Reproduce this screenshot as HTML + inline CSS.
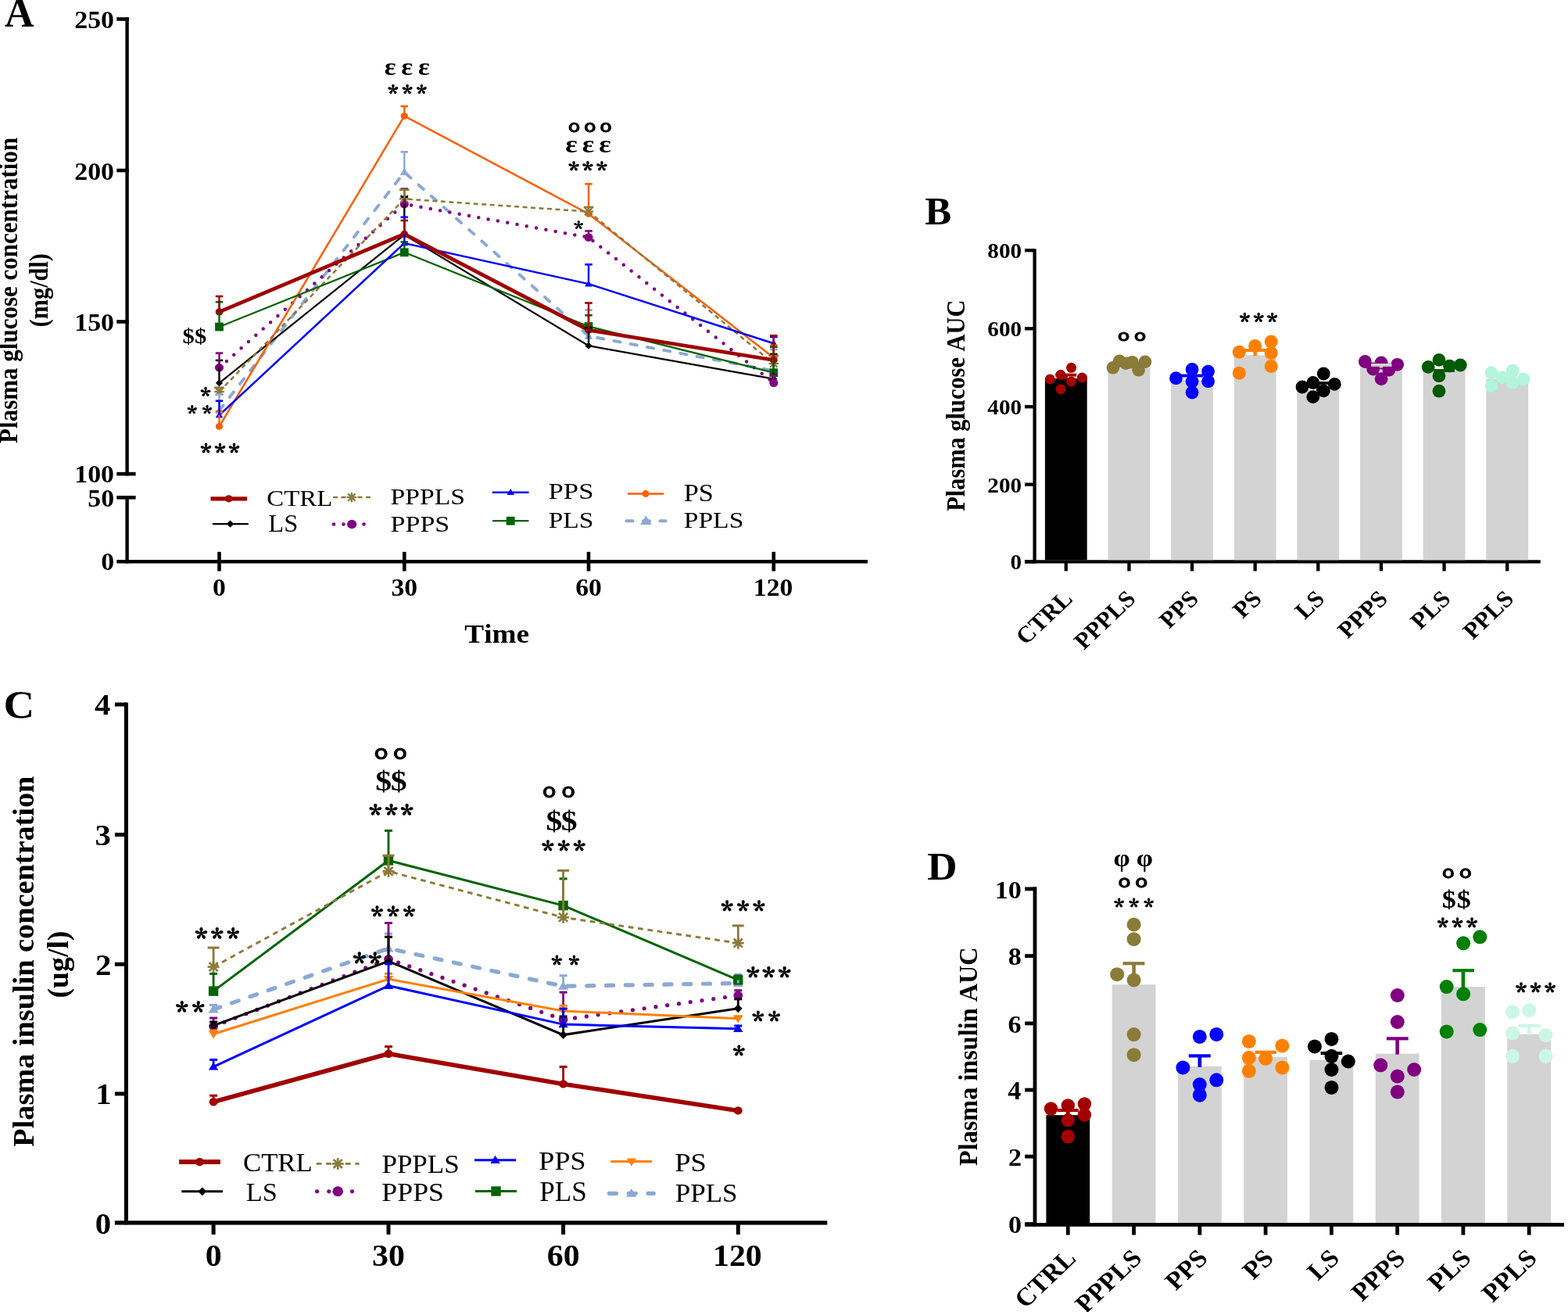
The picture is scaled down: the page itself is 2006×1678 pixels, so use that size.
<!DOCTYPE html>
<html><head><meta charset="utf-8"><title>Figure</title>
<style>html,body{margin:0;padding:0;background:#fff;}svg{display:block;}
text{font-kerning:none;font-variant-ligatures:none;}</style></head>
<body><svg width="2006" height="1678" viewBox="0 0 2006 1678">
<rect width="2006" height="1678" fill="#fff"/>
<line x1="162.6" y1="22.1" x2="162.6" y2="608.4" stroke="#000" stroke-width="4.4" stroke-linecap="butt"/>
<line x1="162.6" y1="634.1" x2="162.6" y2="720.5" stroke="#000" stroke-width="4.4" stroke-linecap="butt"/>
<line x1="149.3" y1="24.4" x2="164.8" y2="24.4" stroke="#000" stroke-width="4.6" stroke-linecap="butt"/>
<line x1="149.3" y1="218" x2="164.8" y2="218" stroke="#000" stroke-width="4.6" stroke-linecap="butt"/>
<line x1="149.3" y1="411.5" x2="164.8" y2="411.5" stroke="#000" stroke-width="4.6" stroke-linecap="butt"/>
<line x1="149.3" y1="606.1" x2="173.6" y2="606.1" stroke="#000" stroke-width="4.6" stroke-linecap="butt"/>
<line x1="149.3" y1="636.3" x2="173.6" y2="636.3" stroke="#000" stroke-width="4.6" stroke-linecap="butt"/>
<line x1="149.3" y1="718.3" x2="1110" y2="718.3" stroke="#000" stroke-width="4.6" stroke-linecap="butt"/>
<line x1="280.5" y1="705.8" x2="280.5" y2="730.5" stroke="#000" stroke-width="4.6" stroke-linecap="butt"/>
<line x1="517.3" y1="705.8" x2="517.3" y2="730.5" stroke="#000" stroke-width="4.6" stroke-linecap="butt"/>
<line x1="753" y1="705.8" x2="753" y2="730.5" stroke="#000" stroke-width="4.6" stroke-linecap="butt"/>
<line x1="989.8" y1="705.8" x2="989.8" y2="730.5" stroke="#000" stroke-width="4.6" stroke-linecap="butt"/>
<text transform="translate(95.21 36.11) scale(1.0597 1)" style="font-family:'Liberation Serif', 'Times New Roman', serif;font-weight:bold;font-size:32.01px;fill:#000">250</text>
<text transform="translate(95.21 229.61) scale(1.0597 1)" style="font-family:'Liberation Serif', 'Times New Roman', serif;font-weight:bold;font-size:32.01px;fill:#000">200</text>
<text transform="translate(95.21 423.11) scale(1.0597 1)" style="font-family:'Liberation Serif', 'Times New Roman', serif;font-weight:bold;font-size:32.01px;fill:#000">150</text>
<text transform="translate(95.21 617.01) scale(1.0597 1)" style="font-family:'Liberation Serif', 'Times New Roman', serif;font-weight:bold;font-size:32.01px;fill:#000">100</text>
<text transform="translate(112.17 648.01) scale(1.0597 1)" style="font-family:'Liberation Serif', 'Times New Roman', serif;font-weight:bold;font-size:32.01px;fill:#000">50</text>
<text transform="translate(129.13 729.11) scale(1.0597 1)" style="font-family:'Liberation Serif', 'Times New Roman', serif;font-weight:bold;font-size:32.01px;fill:#000">0</text>
<text transform="translate(272.07 762.3) scale(1.0831 1)" style="font-family:'Liberation Serif', 'Times New Roman', serif;font-weight:bold;font-size:31.12px;fill:#000">0</text>
<text transform="translate(500.46 762.3) scale(1.0831 1)" style="font-family:'Liberation Serif', 'Times New Roman', serif;font-weight:bold;font-size:31.12px;fill:#000">30</text>
<text transform="translate(736.21 762.3) scale(1.0831 1)" style="font-family:'Liberation Serif', 'Times New Roman', serif;font-weight:bold;font-size:31.12px;fill:#000">60</text>
<text transform="translate(963.81 762.3) scale(1.0831 1)" style="font-family:'Liberation Serif', 'Times New Roman', serif;font-weight:bold;font-size:31.12px;fill:#000">120</text>
<text transform="translate(594.32 821.59) scale(1.1144 1)" style="font-family:'Liberation Serif', 'Times New Roman', serif;font-weight:bold;font-size:33.42px;fill:#000">Time</text>
<text transform="translate(22.3 566.93) rotate(-90) scale(0.9127 1)" style="font-family:'Liberation Serif', 'Times New Roman', serif;font-weight:bold;font-size:34px;fill:#000">Plasma glucose concentration</text>
<text transform="translate(61.1 418.23) rotate(-90) scale(0.8902 1)" style="font-family:'Liberation Serif', 'Times New Roman', serif;font-weight:bold;font-size:34px;fill:#000">(mg/dl)</text>
<text transform="translate(6.09 34.1) scale(0.9958 1)" style="font-family:'Liberation Serif', 'Times New Roman', serif;font-weight:bold;font-size:51.99px;fill:#000">A</text>
<polyline points="280.5,525 517.3,220.2 753,429.9 989.8,474.2" fill="none" stroke="#8aa9d4" stroke-width="3.9" stroke-linecap="round" stroke-linejoin="miter" stroke-dasharray="8.3 13.3"/>
<polyline points="280.5,489.8 517.3,300.3 753,442.2 989.8,484.7" fill="none" stroke="#000" stroke-width="2.2" stroke-linecap="butt" stroke-linejoin="miter"/>
<polyline points="280.5,470.2 517.3,261 753,303.6 989.8,489.7" fill="none" stroke="#800080" stroke-width="4.5" stroke-linecap="round" stroke-linejoin="miter" stroke-dasharray="0 12.5"/>
<polyline points="280.5,545.3 517.3,148.4 753,273.5 989.8,457.6" fill="none" stroke="#ff5e00" stroke-width="2.5" stroke-linecap="butt" stroke-linejoin="miter"/>
<polyline points="280.5,501 517.3,254.4 753,270.6 989.8,465.1" fill="none" stroke="#8b7b3a" stroke-width="2.5" stroke-linecap="butt" stroke-linejoin="miter" stroke-dasharray="6 4.5"/>
<polyline points="280.5,418 517.3,322.8 753,417.5 989.8,476.7" fill="none" stroke="#006400" stroke-width="2.3" stroke-linecap="butt" stroke-linejoin="miter"/>
<polyline points="280.5,531 517.3,311 753,363.1 989.8,439.2" fill="none" stroke="#0000ff" stroke-width="2.5" stroke-linecap="butt" stroke-linejoin="miter"/>
<polyline points="280.5,398.9 517.3,299.4 753,422.2 989.8,460.5" fill="none" stroke="#a00000" stroke-width="4.8" stroke-linecap="butt" stroke-linejoin="miter"/>
<polygon points="280.5,519.75 286,528.75 275,528.75" fill="#8aa9d4"/>
<polygon points="517.3,214.95 522.8,223.95 511.8,223.95" fill="#8aa9d4"/>
<polygon points="753,424.65 758.5,433.65 747.5,433.65" fill="#8aa9d4"/>
<polygon points="989.8,468.95 995.3,477.95 984.3,477.95" fill="#8aa9d4"/>
<polygon points="280.5,485.2 285.1,489.8 280.5,494.4 275.9,489.8" fill="#000"/>
<polygon points="517.3,295.7 521.9,300.3 517.3,304.9 512.7,300.3" fill="#000"/>
<polygon points="753,437.6 757.6,442.2 753,446.8 748.4,442.2" fill="#000"/>
<polygon points="989.8,480.1 994.4,484.7 989.8,489.3 985.2,484.7" fill="#000"/>
<ellipse cx="280.5" cy="470.2" rx="5.57" ry="5.3" fill="#800080"/>
<ellipse cx="517.3" cy="261" rx="5.57" ry="5.3" fill="#800080"/>
<ellipse cx="753" cy="303.6" rx="5.57" ry="5.3" fill="#800080"/>
<ellipse cx="989.8" cy="489.7" rx="5.57" ry="5.3" fill="#800080"/>
<ellipse cx="280.5" cy="545.3" rx="4.62" ry="4.4" fill="#ff5e00"/>
<ellipse cx="517.3" cy="148.4" rx="4.62" ry="4.4" fill="#ff5e00"/>
<ellipse cx="753" cy="273.5" rx="4.62" ry="4.4" fill="#ff5e00"/>
<ellipse cx="989.8" cy="457.6" rx="4.62" ry="4.4" fill="#ff5e00"/>
<line x1="280.5" y1="494.7" x2="280.5" y2="507.3" stroke="#8b7b3a" stroke-width="2.27" stroke-linecap="butt"/>
<line x1="274.2" y1="501" x2="286.8" y2="501" stroke="#8b7b3a" stroke-width="2.27" stroke-linecap="butt"/>
<line x1="275.84" y1="496.34" x2="285.16" y2="505.66" stroke="#8b7b3a" stroke-width="2.27" stroke-linecap="butt"/>
<line x1="275.84" y1="505.66" x2="285.16" y2="496.34" stroke="#8b7b3a" stroke-width="2.27" stroke-linecap="butt"/>
<line x1="517.3" y1="248.1" x2="517.3" y2="260.7" stroke="#8b7b3a" stroke-width="2.27" stroke-linecap="butt"/>
<line x1="511" y1="254.4" x2="523.6" y2="254.4" stroke="#8b7b3a" stroke-width="2.27" stroke-linecap="butt"/>
<line x1="512.64" y1="249.74" x2="521.96" y2="259.06" stroke="#8b7b3a" stroke-width="2.27" stroke-linecap="butt"/>
<line x1="512.64" y1="259.06" x2="521.96" y2="249.74" stroke="#8b7b3a" stroke-width="2.27" stroke-linecap="butt"/>
<line x1="753" y1="264.3" x2="753" y2="276.9" stroke="#8b7b3a" stroke-width="2.27" stroke-linecap="butt"/>
<line x1="746.7" y1="270.6" x2="759.3" y2="270.6" stroke="#8b7b3a" stroke-width="2.27" stroke-linecap="butt"/>
<line x1="748.34" y1="265.94" x2="757.66" y2="275.26" stroke="#8b7b3a" stroke-width="2.27" stroke-linecap="butt"/>
<line x1="748.34" y1="275.26" x2="757.66" y2="265.94" stroke="#8b7b3a" stroke-width="2.27" stroke-linecap="butt"/>
<line x1="989.8" y1="458.8" x2="989.8" y2="471.4" stroke="#8b7b3a" stroke-width="2.27" stroke-linecap="butt"/>
<line x1="983.5" y1="465.1" x2="996.1" y2="465.1" stroke="#8b7b3a" stroke-width="2.27" stroke-linecap="butt"/>
<line x1="985.14" y1="460.44" x2="994.46" y2="469.76" stroke="#8b7b3a" stroke-width="2.27" stroke-linecap="butt"/>
<line x1="985.14" y1="469.76" x2="994.46" y2="460.44" stroke="#8b7b3a" stroke-width="2.27" stroke-linecap="butt"/>
<rect x="275.1" y="412.6" width="10.8" height="10.8" fill="#006400"/>
<rect x="511.9" y="317.4" width="10.8" height="10.8" fill="#006400"/>
<rect x="747.6" y="412.1" width="10.8" height="10.8" fill="#006400"/>
<rect x="984.4" y="471.3" width="10.8" height="10.8" fill="#006400"/>
<polygon points="280.5,526.38 285.34,534.3 275.66,534.3" fill="#0000ff"/>
<polygon points="517.3,306.38 522.14,314.3 512.46,314.3" fill="#0000ff"/>
<polygon points="753,358.48 757.84,366.4 748.16,366.4" fill="#0000ff"/>
<polygon points="989.8,434.58 994.64,442.5 984.96,442.5" fill="#0000ff"/>
<ellipse cx="280.5" cy="398.9" rx="4.83" ry="4.6" fill="#a00000"/>
<ellipse cx="517.3" cy="299.4" rx="4.83" ry="4.6" fill="#a00000"/>
<ellipse cx="753" cy="422.2" rx="4.83" ry="4.6" fill="#a00000"/>
<ellipse cx="989.8" cy="460.5" rx="4.83" ry="4.6" fill="#a00000"/>
<line x1="280.5" y1="525" x2="280.5" y2="504.3" stroke="#8aa9d4" stroke-width="2.4" stroke-linecap="butt"/>
<line x1="275.75" y1="504.3" x2="285.25" y2="504.3" stroke="#8aa9d4" stroke-width="2.6" stroke-linecap="butt"/>
<line x1="517.3" y1="220.2" x2="517.3" y2="194.3" stroke="#8aa9d4" stroke-width="2.4" stroke-linecap="butt"/>
<line x1="512.55" y1="194.3" x2="522.05" y2="194.3" stroke="#8aa9d4" stroke-width="2.6" stroke-linecap="butt"/>
<line x1="753" y1="429.9" x2="753" y2="396.5" stroke="#8aa9d4" stroke-width="2.4" stroke-linecap="butt"/>
<line x1="748.25" y1="396.5" x2="757.75" y2="396.5" stroke="#8aa9d4" stroke-width="2.6" stroke-linecap="butt"/>
<line x1="989.8" y1="474.2" x2="989.8" y2="447" stroke="#8aa9d4" stroke-width="2.4" stroke-linecap="butt"/>
<line x1="985.05" y1="447" x2="994.55" y2="447" stroke="#8aa9d4" stroke-width="2.6" stroke-linecap="butt"/>
<line x1="280.5" y1="489.8" x2="280.5" y2="460.9" stroke="#000" stroke-width="2.4" stroke-linecap="butt"/>
<line x1="275.75" y1="460.9" x2="285.25" y2="460.9" stroke="#000" stroke-width="2.6" stroke-linecap="butt"/>
<line x1="517.3" y1="300.3" x2="517.3" y2="251.8" stroke="#000" stroke-width="2.4" stroke-linecap="butt"/>
<line x1="512.55" y1="251.8" x2="522.05" y2="251.8" stroke="#000" stroke-width="2.6" stroke-linecap="butt"/>
<line x1="753" y1="442.2" x2="753" y2="419" stroke="#000" stroke-width="2.4" stroke-linecap="butt"/>
<line x1="748.25" y1="419" x2="757.75" y2="419" stroke="#000" stroke-width="2.6" stroke-linecap="butt"/>
<line x1="989.8" y1="484.7" x2="989.8" y2="453" stroke="#000" stroke-width="2.4" stroke-linecap="butt"/>
<line x1="985.05" y1="453" x2="994.55" y2="453" stroke="#000" stroke-width="2.6" stroke-linecap="butt"/>
<line x1="280.5" y1="470.2" x2="280.5" y2="451.6" stroke="#800080" stroke-width="2.4" stroke-linecap="butt"/>
<line x1="275.75" y1="451.6" x2="285.25" y2="451.6" stroke="#800080" stroke-width="2.6" stroke-linecap="butt"/>
<line x1="517.3" y1="261" x2="517.3" y2="241.5" stroke="#800080" stroke-width="2.4" stroke-linecap="butt"/>
<line x1="512.55" y1="241.5" x2="522.05" y2="241.5" stroke="#800080" stroke-width="2.6" stroke-linecap="butt"/>
<line x1="753" y1="303.6" x2="753" y2="295.4" stroke="#800080" stroke-width="2.4" stroke-linecap="butt"/>
<line x1="748.25" y1="295.4" x2="757.75" y2="295.4" stroke="#800080" stroke-width="2.6" stroke-linecap="butt"/>
<line x1="989.8" y1="489.7" x2="989.8" y2="480" stroke="#800080" stroke-width="2.4" stroke-linecap="butt"/>
<line x1="985.05" y1="480" x2="994.55" y2="480" stroke="#800080" stroke-width="2.6" stroke-linecap="butt"/>
<line x1="280.5" y1="545.3" x2="280.5" y2="526" stroke="#ff5e00" stroke-width="2.4" stroke-linecap="butt"/>
<line x1="275.75" y1="526" x2="285.25" y2="526" stroke="#ff5e00" stroke-width="2.6" stroke-linecap="butt"/>
<line x1="517.3" y1="148.4" x2="517.3" y2="135.9" stroke="#ff5e00" stroke-width="2.4" stroke-linecap="butt"/>
<line x1="512.55" y1="135.9" x2="522.05" y2="135.9" stroke="#ff5e00" stroke-width="2.6" stroke-linecap="butt"/>
<line x1="753" y1="273.5" x2="753" y2="235.3" stroke="#ff5e00" stroke-width="2.4" stroke-linecap="butt"/>
<line x1="748.25" y1="235.3" x2="757.75" y2="235.3" stroke="#ff5e00" stroke-width="2.6" stroke-linecap="butt"/>
<line x1="989.8" y1="457.6" x2="989.8" y2="441.7" stroke="#ff5e00" stroke-width="2.4" stroke-linecap="butt"/>
<line x1="985.05" y1="441.7" x2="994.55" y2="441.7" stroke="#ff5e00" stroke-width="2.6" stroke-linecap="butt"/>
<line x1="280.5" y1="501" x2="280.5" y2="495.7" stroke="#8b7b3a" stroke-width="2.4" stroke-linecap="butt"/>
<line x1="274.2" y1="495.7" x2="286.8" y2="495.7" stroke="#8b7b3a" stroke-width="2.6" stroke-linecap="butt"/>
<line x1="517.3" y1="254.4" x2="517.3" y2="242.7" stroke="#8b7b3a" stroke-width="2.4" stroke-linecap="butt"/>
<line x1="511" y1="242.7" x2="523.6" y2="242.7" stroke="#8b7b3a" stroke-width="2.6" stroke-linecap="butt"/>
<line x1="753" y1="270.6" x2="753" y2="264.9" stroke="#8b7b3a" stroke-width="2.4" stroke-linecap="butt"/>
<line x1="746.7" y1="264.9" x2="759.3" y2="264.9" stroke="#8b7b3a" stroke-width="2.6" stroke-linecap="butt"/>
<line x1="989.8" y1="465.1" x2="989.8" y2="455" stroke="#8b7b3a" stroke-width="2.4" stroke-linecap="butt"/>
<line x1="983.5" y1="455" x2="996.1" y2="455" stroke="#8b7b3a" stroke-width="2.6" stroke-linecap="butt"/>
<line x1="280.5" y1="418" x2="280.5" y2="386.2" stroke="#006400" stroke-width="2.4" stroke-linecap="butt"/>
<line x1="275.75" y1="386.2" x2="285.25" y2="386.2" stroke="#006400" stroke-width="2.6" stroke-linecap="butt"/>
<line x1="517.3" y1="322.8" x2="517.3" y2="309.5" stroke="#006400" stroke-width="2.4" stroke-linecap="butt"/>
<line x1="512.55" y1="309.5" x2="522.05" y2="309.5" stroke="#006400" stroke-width="2.6" stroke-linecap="butt"/>
<line x1="753" y1="417.5" x2="753" y2="403.2" stroke="#006400" stroke-width="2.4" stroke-linecap="butt"/>
<line x1="748.25" y1="403.2" x2="757.75" y2="403.2" stroke="#006400" stroke-width="2.6" stroke-linecap="butt"/>
<line x1="989.8" y1="476.7" x2="989.8" y2="443.8" stroke="#006400" stroke-width="2.4" stroke-linecap="butt"/>
<line x1="985.05" y1="443.8" x2="994.55" y2="443.8" stroke="#006400" stroke-width="2.6" stroke-linecap="butt"/>
<line x1="280.5" y1="531" x2="280.5" y2="512.7" stroke="#0000ff" stroke-width="2.4" stroke-linecap="butt"/>
<line x1="275.75" y1="512.7" x2="285.25" y2="512.7" stroke="#0000ff" stroke-width="2.6" stroke-linecap="butt"/>
<line x1="517.3" y1="311" x2="517.3" y2="277.8" stroke="#0000ff" stroke-width="2.4" stroke-linecap="butt"/>
<line x1="512.55" y1="277.8" x2="522.05" y2="277.8" stroke="#0000ff" stroke-width="2.6" stroke-linecap="butt"/>
<line x1="753" y1="363.1" x2="753" y2="338.3" stroke="#0000ff" stroke-width="2.4" stroke-linecap="butt"/>
<line x1="748.25" y1="338.3" x2="757.75" y2="338.3" stroke="#0000ff" stroke-width="2.6" stroke-linecap="butt"/>
<line x1="989.8" y1="439.2" x2="989.8" y2="430.9" stroke="#0000ff" stroke-width="2.4" stroke-linecap="butt"/>
<line x1="985.05" y1="430.9" x2="994.55" y2="430.9" stroke="#0000ff" stroke-width="2.6" stroke-linecap="butt"/>
<line x1="280.5" y1="398.9" x2="280.5" y2="379" stroke="#a00000" stroke-width="2.4" stroke-linecap="butt"/>
<line x1="275.75" y1="379" x2="285.25" y2="379" stroke="#a00000" stroke-width="2.6" stroke-linecap="butt"/>
<line x1="517.3" y1="299.4" x2="517.3" y2="282" stroke="#a00000" stroke-width="2.4" stroke-linecap="butt"/>
<line x1="512.55" y1="282" x2="522.05" y2="282" stroke="#a00000" stroke-width="2.6" stroke-linecap="butt"/>
<line x1="753" y1="422.2" x2="753" y2="387.5" stroke="#a00000" stroke-width="2.4" stroke-linecap="butt"/>
<line x1="748.25" y1="387.5" x2="757.75" y2="387.5" stroke="#a00000" stroke-width="2.6" stroke-linecap="butt"/>
<line x1="989.8" y1="460.5" x2="989.8" y2="429.2" stroke="#a00000" stroke-width="2.4" stroke-linecap="butt"/>
<line x1="985.05" y1="429.2" x2="994.55" y2="429.2" stroke="#a00000" stroke-width="2.6" stroke-linecap="butt"/>
<polyline points="269.5,637.8 316.1,637.8" fill="none" stroke="#a00000" stroke-width="5.2" stroke-linecap="butt" stroke-linejoin="miter"/>
<ellipse cx="292.7" cy="637.8" rx="4.83" ry="4.6" fill="#a00000"/>
<polyline points="271.9,670.1 317.9,670.1" fill="none" stroke="#000" stroke-width="2.2" stroke-linecap="butt" stroke-linejoin="miter"/>
<polygon points="294.5,665.5 299.1,670.1 294.5,674.7 289.9,670.1" fill="#000"/>
<polyline points="426,636 474.5,636" fill="none" stroke="#8b7b3a" stroke-width="2.5" stroke-linecap="butt" stroke-linejoin="miter" stroke-dasharray="6 4.5"/>
<line x1="449.9" y1="629.7" x2="449.9" y2="642.3" stroke="#8b7b3a" stroke-width="2.27" stroke-linecap="butt"/>
<line x1="443.6" y1="636" x2="456.2" y2="636" stroke="#8b7b3a" stroke-width="2.27" stroke-linecap="butt"/>
<line x1="445.24" y1="631.34" x2="454.56" y2="640.66" stroke="#8b7b3a" stroke-width="2.27" stroke-linecap="butt"/>
<line x1="445.24" y1="640.66" x2="454.56" y2="631.34" stroke="#8b7b3a" stroke-width="2.27" stroke-linecap="butt"/>
<ellipse cx="427" cy="670.5" rx="2.3" ry="2.3" fill="#800080"/>
<ellipse cx="439.5" cy="670.5" rx="2.3" ry="2.3" fill="#800080"/>
<ellipse cx="465.5" cy="670.5" rx="2.3" ry="2.3" fill="#800080"/>
<ellipse cx="450.2" cy="670.5" rx="6.12" ry="5.83" fill="#800080"/>
<polyline points="629.9,629.7 676.5,629.7" fill="none" stroke="#0000ff" stroke-width="2.5" stroke-linecap="butt" stroke-linejoin="miter"/>
<polygon points="653.2,625.08 658.04,633 648.36,633" fill="#0000ff"/>
<polyline points="630,666.2 676.5,666.2" fill="none" stroke="#006400" stroke-width="2.3" stroke-linecap="butt" stroke-linejoin="miter"/>
<rect x="647.8" y="660.8" width="10.8" height="10.8" fill="#006400"/>
<polyline points="803,631.5 849.4,631.5" fill="none" stroke="#ff5e00" stroke-width="2.5" stroke-linecap="butt" stroke-linejoin="miter"/>
<ellipse cx="826" cy="631.5" rx="4.62" ry="4.4" fill="#ff5e00"/>
<polyline points="801.3,666.2 851.5,666.2" fill="none" stroke="#8aa9d4" stroke-width="3.9" stroke-linecap="round" stroke-linejoin="miter" stroke-dasharray="8.3 13.3"/>
<polygon points="826.4,659.38 833.55,671.08 819.25,671.08" fill="#8aa9d4"/>
<text transform="translate(341.25 646.5) scale(1.0881 1)" style="font-family:'Liberation Serif', 'Times New Roman', serif;font-weight:normal;font-size:30.21px;fill:#000">CTRL</text>
<text transform="translate(343.36 679.7) scale(1.0607 1)" style="font-family:'Liberation Serif', 'Times New Roman', serif;font-weight:normal;font-size:30.66px;fill:#000">LS</text>
<text transform="translate(499.53 644.71) scale(1.1482 1)" style="font-family:'Liberation Serif', 'Times New Roman', serif;font-weight:normal;font-size:29.32px;fill:#000">PPPLS</text>
<text transform="translate(499.52 679.71) scale(1.1620 1)" style="font-family:'Liberation Serif', 'Times New Roman', serif;font-weight:normal;font-size:29.32px;fill:#000">PPPS</text>
<text transform="translate(701.6 638.41) scale(1.1825 1)" style="font-family:'Liberation Serif', 'Times New Roman', serif;font-weight:normal;font-size:29.32px;fill:#000">PPS</text>
<text transform="translate(701.63 675.21) scale(1.1429 1)" style="font-family:'Liberation Serif', 'Times New Roman', serif;font-weight:normal;font-size:29.32px;fill:#000">PLS</text>
<text transform="translate(874.71 641.1) scale(1.1175 1)" style="font-family:'Liberation Serif', 'Times New Roman', serif;font-weight:normal;font-size:30.66px;fill:#000">PS</text>
<text transform="translate(874.73 675.21) scale(1.1470 1)" style="font-family:'Liberation Serif', 'Times New Roman', serif;font-weight:normal;font-size:29.32px;fill:#000">PPLS</text>
<text transform="translate(491.64 95.6) scale(1.1200 1)" style="font-family:'Liberation Serif', 'Times New Roman', serif;font-weight:bold;font-size:31.19px;fill:#000;letter-spacing:6.07px">εεε</text>
<text transform="translate(496.29 129.55) scale(1.0300 1)" style="font-family:'Noto Serif CJK JP', serif;font-weight:900;font-size:26.22px;fill:#000;letter-spacing:4.85px;stroke:#000;stroke-width:0.58px;stroke-linejoin:round">***</text>
<text transform="translate(726.95 168.5) scale(1.2000 1)" style="font-family:'Noto Sans CJK JP', sans-serif;font-weight:400;font-size:20.79px;fill:#000;letter-spacing:4.27px;stroke:#000;stroke-width:1.25px;stroke-linejoin:round">ooo</text>
<text transform="translate(723.21 195.28) scale(1.1200 1)" style="font-family:'Liberation Serif', 'Times New Roman', serif;font-weight:bold;font-size:32.44px;fill:#000;letter-spacing:5.35px">εεε</text>
<text transform="translate(727.27 228.99) scale(1.0300 1)" style="font-family:'Noto Serif CJK JP', serif;font-weight:900;font-size:27.35px;fill:#000;letter-spacing:3.94px;stroke:#000;stroke-width:0.6px;stroke-linejoin:round">***</text>
<text transform="translate(734.33 301.87) scale(1.0300 1)" style="font-family:'Noto Serif CJK JP', serif;font-weight:900;font-size:23.73px;fill:#000;letter-spacing:-11.61px;stroke:#000;stroke-width:0.52px;stroke-linejoin:round">*</text>
<text transform="translate(233.51 439.19) scale(1.1600 1)" style="font-family:'Liberation Serif', 'Times New Roman', serif;font-weight:bold;font-size:26.37px;fill:#000;letter-spacing:0.23px">$$</text>
<text transform="translate(256.49 517.46) scale(1.0300 1)" style="font-family:'Noto Serif CJK JP', serif;font-weight:900;font-size:26px;fill:#000;letter-spacing:-12.71px;stroke:#000;stroke-width:0.57px;stroke-linejoin:round">*</text>
<text transform="translate(239.61 538.91) scale(1.0300 1)" style="font-family:'Noto Serif CJK JP', serif;font-weight:900;font-size:24.86px;fill:#000;letter-spacing:6.52px;stroke:#000;stroke-width:0.55px;stroke-linejoin:round">**</text>
<text transform="translate(256.56 589.97) scale(1.0300 1)" style="font-family:'Noto Serif CJK JP', serif;font-weight:900;font-size:27.8px;fill:#000;letter-spacing:3.81px;stroke:#000;stroke-width:0.61px;stroke-linejoin:round">***</text>
<line x1="1323.6" y1="318.2" x2="1323.6" y2="720.6" stroke="#000" stroke-width="4.3" stroke-linecap="butt"/>
<line x1="1311" y1="320.2" x2="1323.6" y2="320.2" stroke="#000" stroke-width="4.3" stroke-linecap="butt"/>
<line x1="1311" y1="420.3" x2="1323.6" y2="420.3" stroke="#000" stroke-width="4.3" stroke-linecap="butt"/>
<line x1="1311" y1="520.2" x2="1323.6" y2="520.2" stroke="#000" stroke-width="4.3" stroke-linecap="butt"/>
<line x1="1311" y1="619.6" x2="1323.6" y2="619.6" stroke="#000" stroke-width="4.3" stroke-linecap="butt"/>
<line x1="1311" y1="718.4" x2="1323.6" y2="718.4" stroke="#000" stroke-width="4.3" stroke-linecap="butt"/>
<line x1="1311" y1="718.4" x2="1970.8" y2="718.4" stroke="#000" stroke-width="4.3" stroke-linecap="butt"/>
<rect x="1336.9" y="484.1" width="53.8" height="232.15" fill="#000"/>
<line x1="1363.8" y1="718.4" x2="1363.8" y2="730.4" stroke="#000" stroke-width="4.3" stroke-linecap="butt"/>
<rect x="1417.53" y="470.5" width="53.8" height="245.75" fill="#d3d3d3"/>
<line x1="1444.43" y1="718.4" x2="1444.43" y2="730.4" stroke="#000" stroke-width="4.3" stroke-linecap="butt"/>
<rect x="1498.16" y="485.9" width="53.8" height="230.35" fill="#d3d3d3"/>
<line x1="1525.06" y1="718.4" x2="1525.06" y2="730.4" stroke="#000" stroke-width="4.3" stroke-linecap="butt"/>
<rect x="1578.79" y="454.3" width="53.8" height="261.95" fill="#d3d3d3"/>
<line x1="1605.69" y1="718.4" x2="1605.69" y2="730.4" stroke="#000" stroke-width="4.3" stroke-linecap="butt"/>
<rect x="1659.42" y="499" width="53.8" height="217.25" fill="#d3d3d3"/>
<line x1="1686.32" y1="718.4" x2="1686.32" y2="730.4" stroke="#000" stroke-width="4.3" stroke-linecap="butt"/>
<rect x="1740.05" y="469.4" width="53.8" height="246.85" fill="#d3d3d3"/>
<line x1="1766.95" y1="718.4" x2="1766.95" y2="730.4" stroke="#000" stroke-width="4.3" stroke-linecap="butt"/>
<rect x="1820.68" y="473.8" width="53.8" height="242.45" fill="#d3d3d3"/>
<line x1="1847.58" y1="718.4" x2="1847.58" y2="730.4" stroke="#000" stroke-width="4.3" stroke-linecap="butt"/>
<rect x="1901.31" y="484.6" width="53.8" height="231.65" fill="#d3d3d3"/>
<line x1="1928.21" y1="718.4" x2="1928.21" y2="730.4" stroke="#000" stroke-width="4.3" stroke-linecap="butt"/>
<line x1="1363.8" y1="485.1" x2="1363.8" y2="479.6" stroke="#a00000" stroke-width="4.4" stroke-linecap="butt"/>
<line x1="1350.3" y1="479.6" x2="1377.3" y2="479.6" stroke="#a00000" stroke-width="3.9" stroke-linecap="butt"/>
<line x1="1444.43" y1="471.5" x2="1444.43" y2="466" stroke="#8b7b3a" stroke-width="4.4" stroke-linecap="butt"/>
<line x1="1430.93" y1="466" x2="1457.93" y2="466" stroke="#8b7b3a" stroke-width="3.9" stroke-linecap="butt"/>
<line x1="1525.06" y1="486.9" x2="1525.06" y2="480.5" stroke="#0000ff" stroke-width="4.4" stroke-linecap="butt"/>
<line x1="1511.06" y1="480.5" x2="1539.06" y2="480.5" stroke="#0000ff" stroke-width="3.9" stroke-linecap="butt"/>
<line x1="1605.69" y1="455.3" x2="1605.69" y2="448" stroke="#ff8000" stroke-width="4.4" stroke-linecap="butt"/>
<line x1="1591.99" y1="448" x2="1619.39" y2="448" stroke="#ff8000" stroke-width="3.9" stroke-linecap="butt"/>
<line x1="1686.32" y1="500" x2="1686.32" y2="489.9" stroke="#000" stroke-width="4.4" stroke-linecap="butt"/>
<line x1="1672.82" y1="489.9" x2="1699.82" y2="489.9" stroke="#000" stroke-width="3.9" stroke-linecap="butt"/>
<line x1="1847.58" y1="474.8" x2="1847.58" y2="474" stroke="#005a00" stroke-width="4.4" stroke-linecap="butt"/>
<line x1="1834.28" y1="474" x2="1860.88" y2="474" stroke="#005a00" stroke-width="3.9" stroke-linecap="butt"/>
<line x1="1928.21" y1="485.6" x2="1928.21" y2="480" stroke="#b3f5dc" stroke-width="4.4" stroke-linecap="butt"/>
<line x1="1914.91" y1="480" x2="1941.51" y2="480" stroke="#b3f5dc" stroke-width="3.9" stroke-linecap="butt"/>
<ellipse cx="1343.3" cy="484.9" rx="6.5" ry="6.5" fill="#a30000"/>
<ellipse cx="1356.9" cy="479.3" rx="6.5" ry="6.5" fill="#a30000"/>
<ellipse cx="1370.6" cy="470.3" rx="6.5" ry="6.5" fill="#a30000"/>
<ellipse cx="1370.6" cy="487.9" rx="6.5" ry="6.5" fill="#a30000"/>
<ellipse cx="1384.4" cy="483" rx="6.5" ry="6.5" fill="#a30000"/>
<ellipse cx="1356.9" cy="497.7" rx="6.5" ry="6.5" fill="#a30000"/>
<ellipse cx="1423.9" cy="470.3" rx="8.3" ry="8.3" fill="#8b7b38"/>
<ellipse cx="1432.1" cy="461.7" rx="8.3" ry="8.3" fill="#8b7b38"/>
<ellipse cx="1440.3" cy="464.7" rx="8.3" ry="8.3" fill="#8b7b38"/>
<ellipse cx="1448.5" cy="463.2" rx="8.3" ry="8.3" fill="#8b7b38"/>
<ellipse cx="1456.6" cy="473.3" rx="8.3" ry="8.3" fill="#8b7b38"/>
<ellipse cx="1465" cy="462.8" rx="8.3" ry="8.3" fill="#8b7b38"/>
<ellipse cx="1504.5" cy="483.7" rx="8.4" ry="8.4" fill="#0000ff"/>
<ellipse cx="1525.1" cy="472.4" rx="8.4" ry="8.4" fill="#0000ff"/>
<ellipse cx="1525.1" cy="488" rx="8.4" ry="8.4" fill="#0000ff"/>
<ellipse cx="1525.1" cy="502" rx="8.4" ry="8.4" fill="#0000ff"/>
<ellipse cx="1545.6" cy="475.1" rx="8.4" ry="8.4" fill="#0000ff"/>
<ellipse cx="1545.6" cy="487.7" rx="8.4" ry="8.4" fill="#0000ff"/>
<ellipse cx="1585.3" cy="450.3" rx="8.5" ry="8.5" fill="#ff8000"/>
<ellipse cx="1605.6" cy="442.5" rx="8.5" ry="8.5" fill="#ff8000"/>
<ellipse cx="1626.2" cy="437" rx="8.5" ry="8.5" fill="#ff8000"/>
<ellipse cx="1626.2" cy="451.5" rx="8.5" ry="8.5" fill="#ff8000"/>
<ellipse cx="1626.2" cy="468.6" rx="8.5" ry="8.5" fill="#ff8000"/>
<ellipse cx="1585.3" cy="477.3" rx="8.5" ry="8.5" fill="#ff8000"/>
<ellipse cx="1666" cy="495" rx="8.4" ry="8.4" fill="#000"/>
<ellipse cx="1679.8" cy="489.5" rx="8.4" ry="8.4" fill="#000"/>
<ellipse cx="1693.3" cy="478" rx="8.4" ry="8.4" fill="#000"/>
<ellipse cx="1693.3" cy="499.9" rx="8.4" ry="8.4" fill="#000"/>
<ellipse cx="1707.3" cy="491.4" rx="8.4" ry="8.4" fill="#000"/>
<ellipse cx="1679.8" cy="507.6" rx="8.4" ry="8.4" fill="#000"/>
<ellipse cx="1746.4" cy="462.5" rx="8.4" ry="8.4" fill="#800080"/>
<ellipse cx="1767.1" cy="464" rx="8.4" ry="8.4" fill="#800080"/>
<ellipse cx="1787.7" cy="466.3" rx="8.4" ry="8.4" fill="#800080"/>
<ellipse cx="1756.7" cy="472" rx="8.4" ry="8.4" fill="#800080"/>
<ellipse cx="1776.9" cy="473" rx="8.4" ry="8.4" fill="#800080"/>
<ellipse cx="1767.1" cy="484.6" rx="8.4" ry="8.4" fill="#800080"/>
<ellipse cx="1827.2" cy="469.4" rx="8.4" ry="8.4" fill="#005a00"/>
<ellipse cx="1841" cy="460.4" rx="8.4" ry="8.4" fill="#005a00"/>
<ellipse cx="1854.5" cy="468.1" rx="8.4" ry="8.4" fill="#005a00"/>
<ellipse cx="1868.3" cy="467" rx="8.4" ry="8.4" fill="#005a00"/>
<ellipse cx="1841" cy="480.7" rx="8.4" ry="8.4" fill="#005a00"/>
<ellipse cx="1841" cy="500.2" rx="8.4" ry="8.4" fill="#005a00"/>
<ellipse cx="1908" cy="477" rx="8.4" ry="8.4" fill="#b3f5dc"/>
<ellipse cx="1921.8" cy="482.8" rx="8.4" ry="8.4" fill="#b3f5dc"/>
<ellipse cx="1935.2" cy="474.2" rx="8.4" ry="8.4" fill="#b3f5dc"/>
<ellipse cx="1935.2" cy="489.1" rx="8.4" ry="8.4" fill="#b3f5dc"/>
<ellipse cx="1949" cy="485" rx="8.4" ry="8.4" fill="#b3f5dc"/>
<ellipse cx="1908" cy="493.6" rx="8.4" ry="8.4" fill="#b3f5dc"/>
<line x1="1766.95" y1="470.4" x2="1766.95" y2="466.9" stroke="#d3d3d3" stroke-width="4.4" stroke-linecap="butt"/>
<line x1="1754" y1="466.9" x2="1780.5" y2="466.9" stroke="#d3d3d3" stroke-width="3.9" stroke-linecap="butt"/>
<text transform="translate(1263.3 330.21) scale(1.0697 1)" style="font-family:'Liberation Serif', 'Times New Roman', serif;font-weight:bold;font-size:27.31px;fill:#000">800</text>
<text transform="translate(1263.3 430.31) scale(1.0697 1)" style="font-family:'Liberation Serif', 'Times New Roman', serif;font-weight:bold;font-size:27.31px;fill:#000">600</text>
<text transform="translate(1263.3 530.21) scale(1.0697 1)" style="font-family:'Liberation Serif', 'Times New Roman', serif;font-weight:bold;font-size:27.31px;fill:#000">400</text>
<text transform="translate(1263.3 629.61) scale(1.0697 1)" style="font-family:'Liberation Serif', 'Times New Roman', serif;font-weight:bold;font-size:27.31px;fill:#000">200</text>
<text transform="translate(1292.51 728.41) scale(1.0697 1)" style="font-family:'Liberation Serif', 'Times New Roman', serif;font-weight:bold;font-size:27.31px;fill:#000">0</text>
<text transform="translate(1373.8 767.5) scale(1.05 1) rotate(-45)" text-anchor="end" style="font-family:'Liberation Serif', 'Times New Roman', serif;font-weight:bold;font-size:29.8px;fill:#000">CTRL</text>
<text transform="translate(1454.43 767.5) scale(1.05 1) rotate(-45)" text-anchor="end" style="font-family:'Liberation Serif', 'Times New Roman', serif;font-weight:bold;font-size:29.8px;fill:#000">PPPLS</text>
<text transform="translate(1535.06 767.5) scale(1.05 1) rotate(-45)" text-anchor="end" style="font-family:'Liberation Serif', 'Times New Roman', serif;font-weight:bold;font-size:29.8px;fill:#000">PPS</text>
<text transform="translate(1615.69 767.5) scale(1.05 1) rotate(-45)" text-anchor="end" style="font-family:'Liberation Serif', 'Times New Roman', serif;font-weight:bold;font-size:29.8px;fill:#000">PS</text>
<text transform="translate(1696.32 767.5) scale(1.05 1) rotate(-45)" text-anchor="end" style="font-family:'Liberation Serif', 'Times New Roman', serif;font-weight:bold;font-size:29.8px;fill:#000">LS</text>
<text transform="translate(1776.95 767.5) scale(1.05 1) rotate(-45)" text-anchor="end" style="font-family:'Liberation Serif', 'Times New Roman', serif;font-weight:bold;font-size:29.8px;fill:#000">PPPS</text>
<text transform="translate(1857.58 767.5) scale(1.05 1) rotate(-45)" text-anchor="end" style="font-family:'Liberation Serif', 'Times New Roman', serif;font-weight:bold;font-size:29.8px;fill:#000">PLS</text>
<text transform="translate(1938.21 767.5) scale(1.05 1) rotate(-45)" text-anchor="end" style="font-family:'Liberation Serif', 'Times New Roman', serif;font-weight:bold;font-size:29.8px;fill:#000">PPLS</text>
<text transform="translate(1183.35 287.35) scale(1.0057 1)" style="font-family:'Liberation Serif', 'Times New Roman', serif;font-weight:bold;font-size:50.63px;fill:#000">B</text>
<text transform="translate(1234.2 653.82) rotate(-90) scale(0.8842 1)" style="font-family:'Liberation Serif', 'Times New Roman', serif;font-weight:bold;font-size:34.4px;fill:#000">Plasma glucose AUC</text>
<text transform="translate(1429.88 435.81) scale(1.2400 1)" style="font-family:'Noto Sans CJK JP', sans-serif;font-weight:400;font-size:20.09px;fill:#000;letter-spacing:4.88px;stroke:#000;stroke-width:1.25px;stroke-linejoin:round">oo</text>
<text transform="translate(1585.78 421.84) scale(1.0300 1)" style="font-family:'Noto Serif CJK JP', serif;font-weight:900;font-size:26.45px;fill:#000;letter-spacing:4.2px;stroke:#000;stroke-width:0.58px;stroke-linejoin:round">***</text>
<line x1="161.4" y1="898.6" x2="161.4" y2="1566.3" stroke="#000" stroke-width="5" stroke-linecap="butt"/>
<line x1="146.9" y1="901" x2="161.4" y2="901" stroke="#000" stroke-width="5" stroke-linecap="butt"/>
<line x1="146.9" y1="1067.5" x2="161.4" y2="1067.5" stroke="#000" stroke-width="5" stroke-linecap="butt"/>
<line x1="146.9" y1="1233.2" x2="161.4" y2="1233.2" stroke="#000" stroke-width="5" stroke-linecap="butt"/>
<line x1="146.9" y1="1398.9" x2="161.4" y2="1398.9" stroke="#000" stroke-width="5" stroke-linecap="butt"/>
<line x1="146.9" y1="1563.8" x2="1058.3" y2="1563.8" stroke="#000" stroke-width="5.2" stroke-linecap="butt"/>
<line x1="273.1" y1="1563.8" x2="273.1" y2="1578.9" stroke="#000" stroke-width="5" stroke-linecap="butt"/>
<line x1="497" y1="1563.8" x2="497" y2="1578.9" stroke="#000" stroke-width="5" stroke-linecap="butt"/>
<line x1="720.6" y1="1563.8" x2="720.6" y2="1578.9" stroke="#000" stroke-width="5" stroke-linecap="butt"/>
<line x1="944.3" y1="1563.8" x2="944.3" y2="1578.9" stroke="#000" stroke-width="5" stroke-linecap="butt"/>
<text transform="translate(120.95 914.3) scale(1.0600 1)" style="font-family:'Liberation Serif', 'Times New Roman', serif;font-weight:bold;font-size:38.5px;fill:#000">4</text>
<text transform="translate(121.59 1080.8) scale(1.0600 1)" style="font-family:'Liberation Serif', 'Times New Roman', serif;font-weight:bold;font-size:38.5px;fill:#000">3</text>
<text transform="translate(121.95 1246.5) scale(1.0600 1)" style="font-family:'Liberation Serif', 'Times New Roman', serif;font-weight:bold;font-size:38.5px;fill:#000">2</text>
<text transform="translate(122.31 1412.2) scale(1.0600 1)" style="font-family:'Liberation Serif', 'Times New Roman', serif;font-weight:bold;font-size:38.5px;fill:#000">1</text>
<text transform="translate(121.75 1577.8) scale(1.0600 1)" style="font-family:'Liberation Serif', 'Times New Roman', serif;font-weight:bold;font-size:38.5px;fill:#000">0</text>
<text transform="translate(262.63 1618.61) scale(1.0582 1)" style="font-family:'Liberation Serif', 'Times New Roman', serif;font-weight:bold;font-size:39.57px;fill:#000">0</text>
<text transform="translate(476.08 1618.61) scale(1.0582 1)" style="font-family:'Liberation Serif', 'Times New Roman', serif;font-weight:bold;font-size:39.57px;fill:#000">30</text>
<text transform="translate(699.75 1618.61) scale(1.0582 1)" style="font-family:'Liberation Serif', 'Times New Roman', serif;font-weight:bold;font-size:39.57px;fill:#000">60</text>
<text transform="translate(912.02 1618.61) scale(1.0582 1)" style="font-family:'Liberation Serif', 'Times New Roman', serif;font-weight:bold;font-size:39.57px;fill:#000">120</text>
<text transform="translate(42.9 1466.65) rotate(-90) scale(1.0207 1)" style="font-family:'Liberation Serif', 'Times New Roman', serif;font-weight:bold;font-size:37.5px;fill:#000">Plasma insulin concentration</text>
<text transform="translate(87.4 1276.46) rotate(-90) scale(1.0058 1)" style="font-family:'Liberation Serif', 'Times New Roman', serif;font-weight:bold;font-size:37.5px;fill:#000">(ug/l)</text>
<text transform="translate(4.52 917.9) scale(1.0666 1)" style="font-family:'Liberation Serif', 'Times New Roman', serif;font-weight:bold;font-size:51.5px;fill:#000">C</text>
<polyline points="273.1,1291 497,1213 720.6,1261.3 944.3,1257.5" fill="none" stroke="#8aa9d4" stroke-width="5.2" stroke-linecap="round" stroke-linejoin="miter" stroke-dasharray="9.1 15.7"/>
<polyline points="273.1,1312.8 497,1226.6 720.6,1304 944.3,1273.2" fill="none" stroke="#800080" stroke-width="5.2" stroke-linecap="round" stroke-linejoin="miter" stroke-dasharray="0 14.9"/>
<polyline points="273.1,1267.6 497,1100.5 720.6,1158.1 944.3,1253.4" fill="none" stroke="#006400" stroke-width="3" stroke-linecap="butt" stroke-linejoin="miter"/>
<polyline points="273.1,1236.6 497,1114.4 720.6,1173.3 944.3,1206.1" fill="none" stroke="#8b7b3a" stroke-width="2.9" stroke-linecap="butt" stroke-linejoin="miter" stroke-dasharray="6.7 5.7"/>
<polyline points="273.1,1311.7 497,1229.3 720.6,1323.6 944.3,1289.8" fill="none" stroke="#000" stroke-width="3" stroke-linecap="butt" stroke-linejoin="miter"/>
<polyline points="273.1,1322.5 497,1252.2 720.6,1293 944.3,1302.7" fill="none" stroke="#ff8000" stroke-width="3" stroke-linecap="butt" stroke-linejoin="miter"/>
<polyline points="273.1,1364.4 497,1260.7 720.6,1310.1 944.3,1315.7" fill="none" stroke="#0000ff" stroke-width="3" stroke-linecap="butt" stroke-linejoin="miter"/>
<polyline points="273.1,1409.3 497,1347.7 720.6,1386.4 944.3,1420.4" fill="none" stroke="#a00000" stroke-width="5.6" stroke-linecap="butt" stroke-linejoin="miter"/>
<polygon points="273.1,1284.7 279.7,1295.5 266.5,1295.5" fill="#8aa9d4"/>
<polygon points="497,1206.7 503.6,1217.5 490.4,1217.5" fill="#8aa9d4"/>
<polygon points="720.6,1255 727.2,1265.8 714,1265.8" fill="#8aa9d4"/>
<polygon points="944.3,1251.2 950.9,1262 937.7,1262" fill="#8aa9d4"/>
<ellipse cx="273.1" cy="1312.8" rx="5.88" ry="5.6" fill="#800080"/>
<ellipse cx="497" cy="1226.6" rx="5.88" ry="5.6" fill="#800080"/>
<ellipse cx="720.6" cy="1304" rx="5.88" ry="5.6" fill="#800080"/>
<ellipse cx="944.3" cy="1273.2" rx="5.88" ry="5.6" fill="#800080"/>
<rect x="266.9" y="1261.4" width="12.4" height="12.4" fill="#006400"/>
<rect x="490.8" y="1094.3" width="12.4" height="12.4" fill="#006400"/>
<rect x="714.4" y="1151.9" width="12.4" height="12.4" fill="#006400"/>
<rect x="938.1" y="1247.2" width="12.4" height="12.4" fill="#006400"/>
<line x1="273.1" y1="1229.1" x2="273.1" y2="1244.1" stroke="#8b7b3a" stroke-width="2.7" stroke-linecap="butt"/>
<line x1="265.6" y1="1236.6" x2="280.6" y2="1236.6" stroke="#8b7b3a" stroke-width="2.7" stroke-linecap="butt"/>
<line x1="267.55" y1="1231.05" x2="278.65" y2="1242.15" stroke="#8b7b3a" stroke-width="2.7" stroke-linecap="butt"/>
<line x1="267.55" y1="1242.15" x2="278.65" y2="1231.05" stroke="#8b7b3a" stroke-width="2.7" stroke-linecap="butt"/>
<line x1="497" y1="1106.9" x2="497" y2="1121.9" stroke="#8b7b3a" stroke-width="2.7" stroke-linecap="butt"/>
<line x1="489.5" y1="1114.4" x2="504.5" y2="1114.4" stroke="#8b7b3a" stroke-width="2.7" stroke-linecap="butt"/>
<line x1="491.45" y1="1108.85" x2="502.55" y2="1119.95" stroke="#8b7b3a" stroke-width="2.7" stroke-linecap="butt"/>
<line x1="491.45" y1="1119.95" x2="502.55" y2="1108.85" stroke="#8b7b3a" stroke-width="2.7" stroke-linecap="butt"/>
<line x1="720.6" y1="1165.8" x2="720.6" y2="1180.8" stroke="#8b7b3a" stroke-width="2.7" stroke-linecap="butt"/>
<line x1="713.1" y1="1173.3" x2="728.1" y2="1173.3" stroke="#8b7b3a" stroke-width="2.7" stroke-linecap="butt"/>
<line x1="715.05" y1="1167.75" x2="726.15" y2="1178.85" stroke="#8b7b3a" stroke-width="2.7" stroke-linecap="butt"/>
<line x1="715.05" y1="1178.85" x2="726.15" y2="1167.75" stroke="#8b7b3a" stroke-width="2.7" stroke-linecap="butt"/>
<line x1="944.3" y1="1198.6" x2="944.3" y2="1213.6" stroke="#8b7b3a" stroke-width="2.7" stroke-linecap="butt"/>
<line x1="936.8" y1="1206.1" x2="951.8" y2="1206.1" stroke="#8b7b3a" stroke-width="2.7" stroke-linecap="butt"/>
<line x1="938.75" y1="1200.55" x2="949.85" y2="1211.65" stroke="#8b7b3a" stroke-width="2.7" stroke-linecap="butt"/>
<line x1="938.75" y1="1211.65" x2="949.85" y2="1200.55" stroke="#8b7b3a" stroke-width="2.7" stroke-linecap="butt"/>
<polygon points="273.1,1306.3 278.5,1311.7 273.1,1317.1 267.7,1311.7" fill="#000"/>
<polygon points="497,1223.9 502.4,1229.3 497,1234.7 491.6,1229.3" fill="#000"/>
<polygon points="720.6,1318.2 726,1323.6 720.6,1329 715.2,1323.6" fill="#000"/>
<polygon points="944.3,1284.4 949.7,1289.8 944.3,1295.2 938.9,1289.8" fill="#000"/>
<polygon points="273.1,1328.38 279.26,1318.3 266.94,1318.3" fill="#ff8000"/>
<polygon points="497,1258.08 503.16,1248 490.84,1248" fill="#ff8000"/>
<polygon points="720.6,1298.88 726.76,1288.8 714.44,1288.8" fill="#ff8000"/>
<polygon points="944.3,1308.58 950.46,1298.5 938.14,1298.5" fill="#ff8000"/>
<polygon points="273.1,1358.52 279.26,1368.6 266.94,1368.6" fill="#0000ff"/>
<polygon points="497,1254.82 503.16,1264.9 490.84,1264.9" fill="#0000ff"/>
<polygon points="720.6,1304.22 726.76,1314.3 714.44,1314.3" fill="#0000ff"/>
<polygon points="944.3,1309.82 950.46,1319.9 938.14,1319.9" fill="#0000ff"/>
<ellipse cx="273.1" cy="1409.3" rx="5.46" ry="5.2" fill="#a00000"/>
<ellipse cx="497" cy="1347.7" rx="5.46" ry="5.2" fill="#a00000"/>
<ellipse cx="720.6" cy="1386.4" rx="5.46" ry="5.2" fill="#a00000"/>
<ellipse cx="944.3" cy="1420.4" rx="5.46" ry="5.2" fill="#a00000"/>
<line x1="273.1" y1="1291" x2="273.1" y2="1285.4" stroke="#8aa9d4" stroke-width="2.8" stroke-linecap="butt"/>
<line x1="268.1" y1="1285.4" x2="278.1" y2="1285.4" stroke="#8aa9d4" stroke-width="3" stroke-linecap="butt"/>
<line x1="497" y1="1213" x2="497" y2="1194.1" stroke="#8aa9d4" stroke-width="2.8" stroke-linecap="butt"/>
<line x1="492" y1="1194.1" x2="502" y2="1194.1" stroke="#8aa9d4" stroke-width="3" stroke-linecap="butt"/>
<line x1="720.6" y1="1261.3" x2="720.6" y2="1247.8" stroke="#8aa9d4" stroke-width="2.8" stroke-linecap="butt"/>
<line x1="715.6" y1="1247.8" x2="725.6" y2="1247.8" stroke="#8aa9d4" stroke-width="3" stroke-linecap="butt"/>
<line x1="944.3" y1="1257.5" x2="944.3" y2="1246.4" stroke="#8aa9d4" stroke-width="2.8" stroke-linecap="butt"/>
<line x1="939.3" y1="1246.4" x2="949.3" y2="1246.4" stroke="#8aa9d4" stroke-width="3" stroke-linecap="butt"/>
<line x1="273.1" y1="1312.8" x2="273.1" y2="1302" stroke="#800080" stroke-width="2.8" stroke-linecap="butt"/>
<line x1="268.1" y1="1302" x2="278.1" y2="1302" stroke="#800080" stroke-width="3" stroke-linecap="butt"/>
<line x1="497" y1="1226.6" x2="497" y2="1180.5" stroke="#800080" stroke-width="2.8" stroke-linecap="butt"/>
<line x1="492" y1="1180.5" x2="502" y2="1180.5" stroke="#800080" stroke-width="3" stroke-linecap="butt"/>
<line x1="720.6" y1="1304" x2="720.6" y2="1269.1" stroke="#800080" stroke-width="2.8" stroke-linecap="butt"/>
<line x1="715.6" y1="1269.1" x2="725.6" y2="1269.1" stroke="#800080" stroke-width="3" stroke-linecap="butt"/>
<line x1="944.3" y1="1273.2" x2="944.3" y2="1266.7" stroke="#800080" stroke-width="2.8" stroke-linecap="butt"/>
<line x1="939.3" y1="1266.7" x2="949.3" y2="1266.7" stroke="#800080" stroke-width="3" stroke-linecap="butt"/>
<line x1="273.1" y1="1267.6" x2="273.1" y2="1245.4" stroke="#006400" stroke-width="2.8" stroke-linecap="butt"/>
<line x1="268.1" y1="1245.4" x2="278.1" y2="1245.4" stroke="#006400" stroke-width="3" stroke-linecap="butt"/>
<line x1="497" y1="1100.5" x2="497" y2="1062.4" stroke="#006400" stroke-width="2.8" stroke-linecap="butt"/>
<line x1="492" y1="1062.4" x2="502" y2="1062.4" stroke="#006400" stroke-width="3" stroke-linecap="butt"/>
<line x1="720.6" y1="1158.1" x2="720.6" y2="1123.9" stroke="#006400" stroke-width="2.8" stroke-linecap="butt"/>
<line x1="715.6" y1="1123.9" x2="725.6" y2="1123.9" stroke="#006400" stroke-width="3" stroke-linecap="butt"/>
<line x1="944.3" y1="1253.4" x2="944.3" y2="1248" stroke="#006400" stroke-width="2.8" stroke-linecap="butt"/>
<line x1="939.3" y1="1248" x2="949.3" y2="1248" stroke="#006400" stroke-width="3" stroke-linecap="butt"/>
<line x1="273.1" y1="1236.6" x2="273.1" y2="1212.1" stroke="#8b7b3a" stroke-width="2.8" stroke-linecap="butt"/>
<line x1="265.6" y1="1212.1" x2="280.6" y2="1212.1" stroke="#8b7b3a" stroke-width="3" stroke-linecap="butt"/>
<line x1="497" y1="1114.4" x2="497" y2="1094.2" stroke="#8b7b3a" stroke-width="2.8" stroke-linecap="butt"/>
<line x1="489.5" y1="1094.2" x2="504.5" y2="1094.2" stroke="#8b7b3a" stroke-width="3" stroke-linecap="butt"/>
<line x1="720.6" y1="1173.3" x2="720.6" y2="1113.4" stroke="#8b7b3a" stroke-width="2.8" stroke-linecap="butt"/>
<line x1="713.1" y1="1113.4" x2="728.1" y2="1113.4" stroke="#8b7b3a" stroke-width="3" stroke-linecap="butt"/>
<line x1="944.3" y1="1206.1" x2="944.3" y2="1183.9" stroke="#8b7b3a" stroke-width="2.8" stroke-linecap="butt"/>
<line x1="936.8" y1="1183.9" x2="951.8" y2="1183.9" stroke="#8b7b3a" stroke-width="3" stroke-linecap="butt"/>
<line x1="273.1" y1="1311.7" x2="273.1" y2="1307" stroke="#000" stroke-width="2.8" stroke-linecap="butt"/>
<line x1="268.1" y1="1307" x2="278.1" y2="1307" stroke="#000" stroke-width="3" stroke-linecap="butt"/>
<line x1="497" y1="1229.3" x2="497" y2="1198.3" stroke="#000" stroke-width="2.8" stroke-linecap="butt"/>
<line x1="492" y1="1198.3" x2="502" y2="1198.3" stroke="#000" stroke-width="3" stroke-linecap="butt"/>
<line x1="720.6" y1="1323.6" x2="720.6" y2="1300" stroke="#000" stroke-width="2.8" stroke-linecap="butt"/>
<line x1="715.6" y1="1300" x2="725.6" y2="1300" stroke="#000" stroke-width="3" stroke-linecap="butt"/>
<line x1="944.3" y1="1289.8" x2="944.3" y2="1277.8" stroke="#000" stroke-width="2.8" stroke-linecap="butt"/>
<line x1="939.3" y1="1277.8" x2="949.3" y2="1277.8" stroke="#000" stroke-width="3" stroke-linecap="butt"/>
<line x1="273.1" y1="1322.5" x2="273.1" y2="1318" stroke="#ff8000" stroke-width="2.8" stroke-linecap="butt"/>
<line x1="268.1" y1="1318" x2="278.1" y2="1318" stroke="#ff8000" stroke-width="3" stroke-linecap="butt"/>
<line x1="497" y1="1252.2" x2="497" y2="1245.2" stroke="#ff8000" stroke-width="2.8" stroke-linecap="butt"/>
<line x1="492" y1="1245.2" x2="502" y2="1245.2" stroke="#ff8000" stroke-width="3" stroke-linecap="butt"/>
<line x1="720.6" y1="1293" x2="720.6" y2="1286.2" stroke="#ff8000" stroke-width="2.8" stroke-linecap="butt"/>
<line x1="715.6" y1="1286.2" x2="725.6" y2="1286.2" stroke="#ff8000" stroke-width="3" stroke-linecap="butt"/>
<line x1="944.3" y1="1302.7" x2="944.3" y2="1300" stroke="#ff8000" stroke-width="2.8" stroke-linecap="butt"/>
<line x1="939.3" y1="1300" x2="949.3" y2="1300" stroke="#ff8000" stroke-width="3" stroke-linecap="butt"/>
<line x1="273.1" y1="1364.4" x2="273.1" y2="1355.4" stroke="#0000ff" stroke-width="2.8" stroke-linecap="butt"/>
<line x1="268.1" y1="1355.4" x2="278.1" y2="1355.4" stroke="#0000ff" stroke-width="3" stroke-linecap="butt"/>
<line x1="497" y1="1260.7" x2="497" y2="1232.8" stroke="#0000ff" stroke-width="2.8" stroke-linecap="butt"/>
<line x1="492" y1="1232.8" x2="502" y2="1232.8" stroke="#0000ff" stroke-width="3" stroke-linecap="butt"/>
<line x1="720.6" y1="1310.1" x2="720.6" y2="1290.1" stroke="#0000ff" stroke-width="2.8" stroke-linecap="butt"/>
<line x1="715.6" y1="1290.1" x2="725.6" y2="1290.1" stroke="#0000ff" stroke-width="3" stroke-linecap="butt"/>
<line x1="944.3" y1="1315.7" x2="944.3" y2="1312" stroke="#0000ff" stroke-width="2.8" stroke-linecap="butt"/>
<line x1="939.3" y1="1312" x2="949.3" y2="1312" stroke="#0000ff" stroke-width="3" stroke-linecap="butt"/>
<line x1="273.1" y1="1409.3" x2="273.1" y2="1401.2" stroke="#a00000" stroke-width="2.8" stroke-linecap="butt"/>
<line x1="268.1" y1="1401.2" x2="278.1" y2="1401.2" stroke="#a00000" stroke-width="3" stroke-linecap="butt"/>
<line x1="497" y1="1347.7" x2="497" y2="1338.5" stroke="#a00000" stroke-width="2.8" stroke-linecap="butt"/>
<line x1="492" y1="1338.5" x2="502" y2="1338.5" stroke="#a00000" stroke-width="3" stroke-linecap="butt"/>
<line x1="720.6" y1="1386.4" x2="720.6" y2="1364.4" stroke="#a00000" stroke-width="2.8" stroke-linecap="butt"/>
<line x1="715.6" y1="1364.4" x2="725.6" y2="1364.4" stroke="#a00000" stroke-width="3" stroke-linecap="butt"/>
<polyline points="229.1,1486 281.9,1486" fill="none" stroke="#a00000" stroke-width="5.8" stroke-linecap="butt" stroke-linejoin="miter"/>
<ellipse cx="255.4" cy="1486" rx="5.46" ry="5.2" fill="#a00000"/>
<polyline points="232.3,1523.8 285,1523.8" fill="none" stroke="#000" stroke-width="3" stroke-linecap="butt" stroke-linejoin="miter"/>
<polygon points="258.8,1518.4 264.2,1523.8 258.8,1529.2 253.4,1523.8" fill="#000"/>
<polyline points="404.7,1488.4 459.6,1488.4" fill="none" stroke="#8b7b3a" stroke-width="2.9" stroke-linecap="butt" stroke-linejoin="miter" stroke-dasharray="6.7 5.7"/>
<line x1="432.2" y1="1480.9" x2="432.2" y2="1495.9" stroke="#8b7b3a" stroke-width="2.7" stroke-linecap="butt"/>
<line x1="424.7" y1="1488.4" x2="439.7" y2="1488.4" stroke="#8b7b3a" stroke-width="2.7" stroke-linecap="butt"/>
<line x1="426.65" y1="1482.85" x2="437.75" y2="1493.95" stroke="#8b7b3a" stroke-width="2.7" stroke-linecap="butt"/>
<line x1="426.65" y1="1493.95" x2="437.75" y2="1482.85" stroke="#8b7b3a" stroke-width="2.7" stroke-linecap="butt"/>
<ellipse cx="405.6" cy="1523.8" rx="2.6" ry="2.6" fill="#800080"/>
<ellipse cx="420.8" cy="1523.8" rx="2.6" ry="2.6" fill="#800080"/>
<ellipse cx="450.5" cy="1523.8" rx="2.6" ry="2.6" fill="#800080"/>
<ellipse cx="432.2" cy="1523.8" rx="6.76" ry="6.44" fill="#800080"/>
<polyline points="607,1483.7 660.1,1483.7" fill="none" stroke="#0000ff" stroke-width="3" stroke-linecap="butt" stroke-linejoin="miter"/>
<polygon points="633.6,1477.82 639.76,1487.9 627.44,1487.9" fill="#0000ff"/>
<polyline points="608,1523.5 661,1523.5" fill="none" stroke="#006400" stroke-width="3" stroke-linecap="butt" stroke-linejoin="miter"/>
<rect x="628.3" y="1517.3" width="12.4" height="12.4" fill="#006400"/>
<polyline points="781.3,1485.6 834,1485.6" fill="none" stroke="#ff8000" stroke-width="3" stroke-linecap="butt" stroke-linejoin="miter"/>
<polygon points="807.8,1491.48 813.96,1481.4 801.64,1481.4" fill="#ff8000"/>
<polyline points="779.4,1526.3 836.3,1526.3" fill="none" stroke="#8aa9d4" stroke-width="5.2" stroke-linecap="round" stroke-linejoin="miter" stroke-dasharray="9.1 15.7"/>
<polygon points="807.8,1520 814.4,1530.8 801.2,1530.8" fill="#8aa9d4"/>
<text transform="translate(310.97 1498.47) scale(1.0286 1)" style="font-family:'Liberation Serif', 'Times New Roman', serif;font-weight:normal;font-size:33.79px;fill:#000">CTRL</text>
<text transform="translate(314.71 1536.37) scale(1.0149 1)" style="font-family:'Liberation Serif', 'Times New Roman', serif;font-weight:normal;font-size:33.79px;fill:#000">LS</text>
<text transform="translate(488.39 1500.38) scale(1.0560 1)" style="font-family:'Liberation Serif', 'Times New Roman', serif;font-weight:normal;font-size:33.19px;fill:#000">PPPLS</text>
<text transform="translate(488.37 1536.37) scale(1.0584 1)" style="font-family:'Liberation Serif', 'Times New Roman', serif;font-weight:normal;font-size:33.79px;fill:#000">PPPS</text>
<text transform="translate(689.36 1496.06) scale(1.0472 1)" style="font-family:'Liberation Serif', 'Times New Roman', serif;font-weight:normal;font-size:34.38px;fill:#000">PPS</text>
<text transform="translate(690.29 1536.36) scale(0.9969 1)" style="font-family:'Liberation Serif', 'Times New Roman', serif;font-weight:normal;font-size:35.27px;fill:#000">PLS</text>
<text transform="translate(863.25 1498.46) scale(1.0530 1)" style="font-family:'Liberation Serif', 'Times New Roman', serif;font-weight:normal;font-size:34.68px;fill:#000">PS</text>
<text transform="translate(863.69 1537.37) scale(1.0328 1)" style="font-family:'Liberation Serif', 'Times New Roman', serif;font-weight:normal;font-size:33.93px;fill:#000">PPLS</text>
<text transform="translate(249.5 1213.49) scale(1.0300 1)" style="font-family:'Noto Serif CJK JP', serif;font-weight:900;font-size:31.65px;fill:#000;letter-spacing:4.3px;stroke:#000;stroke-width:0.7px;stroke-linejoin:round">***</text>
<text transform="translate(224.7 1307.19) scale(1.0300 1)" style="font-family:'Noto Serif CJK JP', serif;font-weight:900;font-size:31.65px;fill:#000;letter-spacing:4.85px;stroke:#000;stroke-width:0.7px;stroke-linejoin:round">**</text>
<text transform="translate(478.87 971.43) scale(1.1200 1)" style="font-family:'Noto Sans CJK JP', sans-serif;font-weight:400;font-size:26.23px;fill:#000;letter-spacing:5.58px;stroke:#000;stroke-width:1.25px;stroke-linejoin:round">oo</text>
<text transform="translate(480.21 1011.15) scale(1.1600 1)" style="font-family:'Liberation Serif', 'Times New Roman', serif;font-weight:bold;font-size:36.11px;fill:#000;letter-spacing:-1.3px">$$</text>
<text transform="translate(472.19 1055.47) scale(1.0300 1)" style="font-family:'Noto Serif CJK JP', serif;font-weight:900;font-size:32.1px;fill:#000;letter-spacing:3.92px;stroke:#000;stroke-width:0.71px;stroke-linejoin:round">***</text>
<text transform="translate(474.72 1184.44) scale(1.0300 1)" style="font-family:'Noto Serif CJK JP', serif;font-weight:900;font-size:30.52px;fill:#000;letter-spacing:4.96px;stroke:#000;stroke-width:0.67px;stroke-linejoin:round">***</text>
<text transform="translate(451.49 1245.24) scale(1.0300 1)" style="font-family:'Noto Serif CJK JP', serif;font-weight:900;font-size:32.55px;fill:#000;letter-spacing:3.5px;stroke:#000;stroke-width:0.72px;stroke-linejoin:round">**</text>
<text transform="translate(694.11 1019.94) scale(1.1200 1)" style="font-family:'Noto Sans CJK JP', sans-serif;font-weight:400;font-size:25.53px;fill:#000;letter-spacing:6.36px;stroke:#000;stroke-width:1.25px;stroke-linejoin:round">oo</text>
<text transform="translate(698.51 1062.16) scale(1.1600 1)" style="font-family:'Liberation Serif', 'Times New Roman', serif;font-weight:bold;font-size:35.99px;fill:#000;letter-spacing:-1.44px">$$</text>
<text transform="translate(693.22 1099.84) scale(1.0300 1)" style="font-family:'Noto Serif CJK JP', serif;font-weight:900;font-size:30.52px;fill:#000;letter-spacing:4.67px;stroke:#000;stroke-width:0.67px;stroke-linejoin:round">***</text>
<text transform="translate(705.57 1245.28) scale(1.0300 1)" style="font-family:'Noto Serif CJK JP', serif;font-weight:900;font-size:27.58px;fill:#000;letter-spacing:7.93px;stroke:#000;stroke-width:0.61px;stroke-linejoin:round">**</text>
<text transform="translate(922.42 1176.74) scale(1.0300 1)" style="font-family:'Noto Serif CJK JP', serif;font-weight:900;font-size:30.52px;fill:#000;letter-spacing:4.96px;stroke:#000;stroke-width:0.67px;stroke-linejoin:round">***</text>
<text transform="translate(955.19 1263.26) scale(1.0300 1)" style="font-family:'Noto Serif CJK JP', serif;font-weight:900;font-size:32.32px;fill:#000;letter-spacing:3.71px;stroke:#000;stroke-width:0.71px;stroke-linejoin:round">***</text>
<text transform="translate(962.13 1317.76) scale(1.0300 1)" style="font-family:'Noto Serif CJK JP', serif;font-weight:900;font-size:30.06px;fill:#000;letter-spacing:5.57px;stroke:#000;stroke-width:0.66px;stroke-linejoin:round">**</text>
<text transform="translate(937.73 1361.66) scale(1.0300 1)" style="font-family:'Noto Serif CJK JP', serif;font-weight:900;font-size:30.06px;fill:#000;letter-spacing:-14.7px;stroke:#000;stroke-width:0.66px;stroke-linejoin:round">*</text>
<line x1="1324" y1="1134.3" x2="1324" y2="1568.6" stroke="#000" stroke-width="4.8" stroke-linecap="butt"/>
<line x1="1311.2" y1="1136.9" x2="1324" y2="1136.9" stroke="#000" stroke-width="4.8" stroke-linecap="butt"/>
<line x1="1311.2" y1="1222.6" x2="1324" y2="1222.6" stroke="#000" stroke-width="4.8" stroke-linecap="butt"/>
<line x1="1311.2" y1="1308.9" x2="1324" y2="1308.9" stroke="#000" stroke-width="4.8" stroke-linecap="butt"/>
<line x1="1311.2" y1="1394" x2="1324" y2="1394" stroke="#000" stroke-width="4.8" stroke-linecap="butt"/>
<line x1="1311.2" y1="1479.1" x2="1324" y2="1479.1" stroke="#000" stroke-width="4.8" stroke-linecap="butt"/>
<line x1="1311.2" y1="1565.5" x2="1324" y2="1565.5" stroke="#000" stroke-width="4.8" stroke-linecap="butt"/>
<line x1="1311.2" y1="1566.4" x2="2001" y2="1566.4" stroke="#000" stroke-width="4.8" stroke-linecap="butt"/>
<rect x="1338.4" y="1426.2" width="55.8" height="137.8" fill="#000"/>
<line x1="1366.3" y1="1566.4" x2="1366.3" y2="1579.5" stroke="#000" stroke-width="4.8" stroke-linecap="butt"/>
<rect x="1422.67" y="1259.2" width="55.8" height="304.8" fill="#d3d3d3"/>
<line x1="1450.57" y1="1566.4" x2="1450.57" y2="1579.5" stroke="#000" stroke-width="4.8" stroke-linecap="butt"/>
<rect x="1506.94" y="1363.8" width="55.8" height="200.2" fill="#d3d3d3"/>
<line x1="1534.84" y1="1566.4" x2="1534.84" y2="1579.5" stroke="#000" stroke-width="4.8" stroke-linecap="butt"/>
<rect x="1591.21" y="1351.8" width="55.8" height="212.2" fill="#d3d3d3"/>
<line x1="1619.11" y1="1566.4" x2="1619.11" y2="1579.5" stroke="#000" stroke-width="4.8" stroke-linecap="butt"/>
<rect x="1675.48" y="1355.6" width="55.8" height="208.4" fill="#d3d3d3"/>
<line x1="1703.38" y1="1566.4" x2="1703.38" y2="1579.5" stroke="#000" stroke-width="4.8" stroke-linecap="butt"/>
<rect x="1759.75" y="1347.6" width="55.8" height="216.4" fill="#d3d3d3"/>
<line x1="1787.65" y1="1566.4" x2="1787.65" y2="1579.5" stroke="#000" stroke-width="4.8" stroke-linecap="butt"/>
<rect x="1844.02" y="1262.1" width="55.8" height="301.9" fill="#d3d3d3"/>
<line x1="1871.92" y1="1566.4" x2="1871.92" y2="1579.5" stroke="#000" stroke-width="4.8" stroke-linecap="butt"/>
<rect x="1928.29" y="1322.6" width="55.8" height="241.4" fill="#d3d3d3"/>
<line x1="1956.19" y1="1566.4" x2="1956.19" y2="1579.5" stroke="#000" stroke-width="4.8" stroke-linecap="butt"/>
<line x1="1366.3" y1="1427.2" x2="1366.3" y2="1420" stroke="#a00000" stroke-width="4.6" stroke-linecap="butt"/>
<line x1="1352.9" y1="1420" x2="1379.8" y2="1420" stroke="#a00000" stroke-width="4.2" stroke-linecap="butt"/>
<line x1="1450.57" y1="1260.2" x2="1450.57" y2="1232.2" stroke="#8b7b3a" stroke-width="4.6" stroke-linecap="butt"/>
<line x1="1436.5" y1="1232.2" x2="1464.4" y2="1232.2" stroke="#8b7b3a" stroke-width="4.2" stroke-linecap="butt"/>
<line x1="1534.84" y1="1364.8" x2="1534.84" y2="1350.4" stroke="#0000ff" stroke-width="4.6" stroke-linecap="butt"/>
<line x1="1520.8" y1="1350.4" x2="1548.7" y2="1350.4" stroke="#0000ff" stroke-width="4.2" stroke-linecap="butt"/>
<line x1="1619.11" y1="1352.8" x2="1619.11" y2="1345.8" stroke="#ff8000" stroke-width="4.6" stroke-linecap="butt"/>
<line x1="1605.5" y1="1345.8" x2="1633" y2="1345.8" stroke="#ff8000" stroke-width="4.2" stroke-linecap="butt"/>
<line x1="1703.38" y1="1356.6" x2="1703.38" y2="1347" stroke="#000" stroke-width="4.6" stroke-linecap="butt"/>
<line x1="1689.6" y1="1347" x2="1717.2" y2="1347" stroke="#000" stroke-width="4.2" stroke-linecap="butt"/>
<line x1="1787.65" y1="1348.6" x2="1787.65" y2="1328.3" stroke="#800080" stroke-width="4.6" stroke-linecap="butt"/>
<line x1="1773.9" y1="1328.3" x2="1801.7" y2="1328.3" stroke="#800080" stroke-width="4.2" stroke-linecap="butt"/>
<line x1="1871.92" y1="1263.1" x2="1871.92" y2="1241.2" stroke="#008000" stroke-width="4.6" stroke-linecap="butt"/>
<line x1="1858.4" y1="1241.2" x2="1886" y2="1241.2" stroke="#008000" stroke-width="4.2" stroke-linecap="butt"/>
<line x1="1956.19" y1="1323.6" x2="1956.19" y2="1311.7" stroke="#ccf7e6" stroke-width="4.6" stroke-linecap="butt"/>
<line x1="1942.7" y1="1311.7" x2="1970.5" y2="1311.7" stroke="#ccf7e6" stroke-width="4.2" stroke-linecap="butt"/>
<ellipse cx="1344.5" cy="1418" rx="8.7" ry="8.7" fill="#a30000"/>
<ellipse cx="1366.3" cy="1414" rx="8.7" ry="8.7" fill="#a30000"/>
<ellipse cx="1387.4" cy="1412" rx="8.7" ry="8.7" fill="#a30000"/>
<ellipse cx="1387.4" cy="1426" rx="8.7" ry="8.7" fill="#a30000"/>
<ellipse cx="1366.3" cy="1432.6" rx="8.7" ry="8.7" fill="#a30000"/>
<ellipse cx="1366.3" cy="1453.5" rx="8.7" ry="8.7" fill="#a30000"/>
<ellipse cx="1450.6" cy="1182.5" rx="9" ry="9" fill="#8b7b38"/>
<ellipse cx="1450.6" cy="1201.2" rx="9" ry="9" fill="#8b7b38"/>
<ellipse cx="1429.2" cy="1246.2" rx="9" ry="9" fill="#8b7b38"/>
<ellipse cx="1450.6" cy="1253.5" rx="9" ry="9" fill="#8b7b38"/>
<ellipse cx="1450.6" cy="1323.1" rx="9" ry="9" fill="#8b7b38"/>
<ellipse cx="1450.6" cy="1349.2" rx="9" ry="9" fill="#8b7b38"/>
<ellipse cx="1534.8" cy="1325.9" rx="9" ry="9" fill="#0000ff"/>
<ellipse cx="1556.3" cy="1322.9" rx="9" ry="9" fill="#0000ff"/>
<ellipse cx="1513.4" cy="1365.4" rx="9" ry="9" fill="#0000ff"/>
<ellipse cx="1534.8" cy="1387.1" rx="9" ry="9" fill="#0000ff"/>
<ellipse cx="1556.3" cy="1381.3" rx="9" ry="9" fill="#0000ff"/>
<ellipse cx="1534.8" cy="1400.7" rx="9" ry="9" fill="#0000ff"/>
<ellipse cx="1597.8" cy="1331.9" rx="9" ry="9" fill="#ff8000"/>
<ellipse cx="1640.4" cy="1337.5" rx="9" ry="9" fill="#ff8000"/>
<ellipse cx="1597.8" cy="1352.8" rx="9" ry="9" fill="#ff8000"/>
<ellipse cx="1619.1" cy="1353.8" rx="9" ry="9" fill="#ff8000"/>
<ellipse cx="1640.4" cy="1365.4" rx="9" ry="9" fill="#ff8000"/>
<ellipse cx="1597.8" cy="1369.8" rx="9" ry="9" fill="#ff8000"/>
<ellipse cx="1703.5" cy="1328.9" rx="9" ry="9" fill="#000"/>
<ellipse cx="1681.9" cy="1338.4" rx="9" ry="9" fill="#000"/>
<ellipse cx="1703.5" cy="1350.8" rx="9" ry="9" fill="#000"/>
<ellipse cx="1724.8" cy="1357.5" rx="9" ry="9" fill="#000"/>
<ellipse cx="1703.5" cy="1368" rx="9" ry="9" fill="#000"/>
<ellipse cx="1703.5" cy="1390.9" rx="9" ry="9" fill="#000"/>
<ellipse cx="1787.8" cy="1273" rx="9" ry="9" fill="#800080"/>
<ellipse cx="1787.8" cy="1307" rx="9" ry="9" fill="#800080"/>
<ellipse cx="1766.2" cy="1362.3" rx="9" ry="9" fill="#800080"/>
<ellipse cx="1809.2" cy="1368" rx="9" ry="9" fill="#800080"/>
<ellipse cx="1787.8" cy="1376.6" rx="9" ry="9" fill="#800080"/>
<ellipse cx="1787.8" cy="1396.6" rx="9" ry="9" fill="#800080"/>
<ellipse cx="1893.3" cy="1198.3" rx="9" ry="9" fill="#008000"/>
<ellipse cx="1872.1" cy="1206.3" rx="9" ry="9" fill="#008000"/>
<ellipse cx="1850.7" cy="1262.1" rx="9" ry="9" fill="#008000"/>
<ellipse cx="1872.1" cy="1271.3" rx="9" ry="9" fill="#008000"/>
<ellipse cx="1850.7" cy="1319.4" rx="9" ry="9" fill="#008000"/>
<ellipse cx="1893.3" cy="1317.1" rx="9" ry="9" fill="#008000"/>
<ellipse cx="1935" cy="1294.2" rx="9" ry="9" fill="#ccf7e6"/>
<ellipse cx="1956.2" cy="1292.1" rx="9" ry="9" fill="#ccf7e6"/>
<ellipse cx="1935" cy="1321.3" rx="9" ry="9" fill="#ccf7e6"/>
<ellipse cx="1977.6" cy="1324.1" rx="9" ry="9" fill="#ccf7e6"/>
<ellipse cx="1935" cy="1350.8" rx="9" ry="9" fill="#ccf7e6"/>
<ellipse cx="1977.6" cy="1350.8" rx="9" ry="9" fill="#ccf7e6"/>
<text transform="translate(1272.76 1148.71) scale(1.0697 1)" style="font-family:'Liberation Serif', 'Times New Roman', serif;font-weight:bold;font-size:32.01px;fill:#000">10</text>
<text transform="translate(1289.72 1234.41) scale(1.0697 1)" style="font-family:'Liberation Serif', 'Times New Roman', serif;font-weight:bold;font-size:32.01px;fill:#000">8</text>
<text transform="translate(1289.58 1320.71) scale(1.0650 1)" style="font-family:'Liberation Serif', 'Times New Roman', serif;font-weight:bold;font-size:32.15px;fill:#000">6</text>
<text transform="translate(1289.22 1406.12) scale(1.0434 1)" style="font-family:'Liberation Serif', 'Times New Roman', serif;font-weight:bold;font-size:32.82px;fill:#000">4</text>
<text transform="translate(1290.05 1491.22) scale(1.0496 1)" style="font-family:'Liberation Serif', 'Times New Roman', serif;font-weight:bold;font-size:32.62px;fill:#000">2</text>
<text transform="translate(1289.88 1577.31) scale(1.0697 1)" style="font-family:'Liberation Serif', 'Times New Roman', serif;font-weight:bold;font-size:32.01px;fill:#000">0</text>
<text transform="translate(1378.3 1611) scale(1.05 1) rotate(-45)" text-anchor="end" style="font-family:'Liberation Serif', 'Times New Roman', serif;font-weight:bold;font-size:32.3px;fill:#000">CTRL</text>
<text transform="translate(1462.57 1611) scale(1.05 1) rotate(-45)" text-anchor="end" style="font-family:'Liberation Serif', 'Times New Roman', serif;font-weight:bold;font-size:32.3px;fill:#000">PPPLS</text>
<text transform="translate(1546.84 1611) scale(1.05 1) rotate(-45)" text-anchor="end" style="font-family:'Liberation Serif', 'Times New Roman', serif;font-weight:bold;font-size:32.3px;fill:#000">PPS</text>
<text transform="translate(1631.11 1611) scale(1.05 1) rotate(-45)" text-anchor="end" style="font-family:'Liberation Serif', 'Times New Roman', serif;font-weight:bold;font-size:32.3px;fill:#000">PS</text>
<text transform="translate(1715.38 1611) scale(1.05 1) rotate(-45)" text-anchor="end" style="font-family:'Liberation Serif', 'Times New Roman', serif;font-weight:bold;font-size:32.3px;fill:#000">LS</text>
<text transform="translate(1799.65 1611) scale(1.05 1) rotate(-45)" text-anchor="end" style="font-family:'Liberation Serif', 'Times New Roman', serif;font-weight:bold;font-size:32.3px;fill:#000">PPPS</text>
<text transform="translate(1883.92 1611) scale(1.05 1) rotate(-45)" text-anchor="end" style="font-family:'Liberation Serif', 'Times New Roman', serif;font-weight:bold;font-size:32.3px;fill:#000">PLS</text>
<text transform="translate(1968.19 1611) scale(1.05 1) rotate(-45)" text-anchor="end" style="font-family:'Liberation Serif', 'Times New Roman', serif;font-weight:bold;font-size:32.3px;fill:#000">PPLS</text>
<text transform="translate(1186.37 1125) scale(1.0404 1)" style="font-family:'Liberation Serif', 'Times New Roman', serif;font-weight:bold;font-size:51.01px;fill:#000">D</text>
<text transform="translate(1250.1 1490.95) rotate(-90) scale(0.9404 1)" style="font-family:'Liberation Serif', 'Times New Roman', serif;font-weight:bold;font-size:34.3px;fill:#000">Plasma insulin AUC</text>
<text transform="translate(1424.49 1107.9) scale(1.0500 1)" style="font-family:'Liberation Serif', 'Times New Roman', serif;font-weight:bold;font-size:32.43px;fill:#000;letter-spacing:7.63px">φφ</text>
<text transform="translate(1430.59 1134.6) scale(1.2300 1)" style="font-family:'Noto Sans CJK JP', sans-serif;font-weight:400;font-size:21.49px;fill:#000;letter-spacing:4.61px;stroke:#000;stroke-width:1.25px;stroke-linejoin:round">oo</text>
<text transform="translate(1425.3 1170.08) scale(1.0300 1)" style="font-family:'Noto Serif CJK JP', serif;font-weight:900;font-size:25.54px;fill:#000;letter-spacing:5.96px;stroke:#000;stroke-width:0.56px;stroke-linejoin:round">***</text>
<text transform="translate(1844.9 1122.8) scale(1.2100 1)" style="font-family:'Noto Sans CJK JP', sans-serif;font-weight:400;font-size:21.49px;fill:#000;letter-spacing:5.19px;stroke:#000;stroke-width:1.25px;stroke-linejoin:round">oo</text>
<text transform="translate(1844.81 1160.52) scale(1.1600 1)" style="font-family:'Liberation Serif', 'Times New Roman', serif;font-weight:bold;font-size:31.24px;fill:#000;letter-spacing:0.76px">$$</text>
<text transform="translate(1838.86 1196.96) scale(1.0300 1)" style="font-family:'Noto Serif CJK JP', serif;font-weight:900;font-size:28.03px;fill:#000;letter-spacing:4.37px;stroke:#000;stroke-width:0.62px;stroke-linejoin:round">***</text>
<text transform="translate(1938.96 1279.86) scale(1.0300 1)" style="font-family:'Noto Serif CJK JP', serif;font-weight:900;font-size:28.03px;fill:#000;letter-spacing:4.23px;stroke:#000;stroke-width:0.62px;stroke-linejoin:round">***</text>
</svg></body></html>
